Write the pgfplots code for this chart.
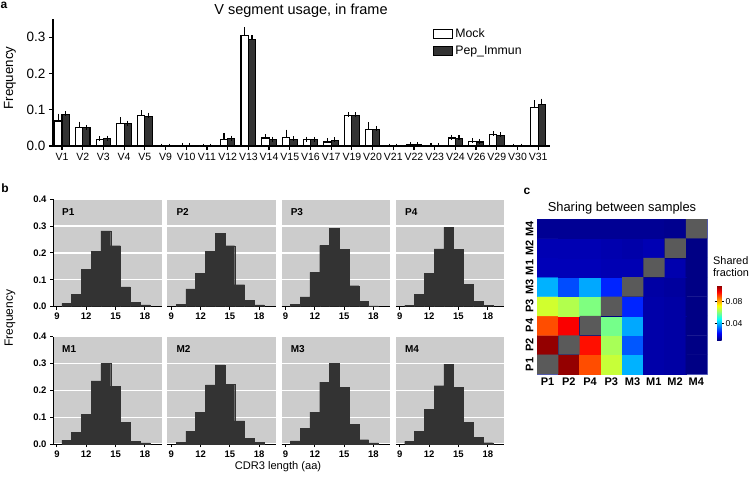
\documentclass[border=0pt]{standalone}
\usepackage{pgfplots}
\pgfplotsset{compat=1.18}
\usepackage{pgfplotstable}
\usepackage{fontspec}
\setmainfont{Liberation Sans}
\definecolor{bardark}{RGB}{51,51,51}
\definecolor{panelgray}{RGB}{204,204,204}
\definecolor{diaggray}{RGB}{90,90,90}
\definecolor{hmborder}{RGB}{110,120,200}
\newcommand{\fsz}[2]{\fontsize{#1}{#2}\selectfont}

\pgfplotstableread{
x  mock  mocke pep   pepe
0  0.069 0.013 0.087 0.002
1  0.051 0.009 0.050 0.001
2  0.018 0.002 0.020 0.002
3  0.062 0.011 0.062 0.001
4  0.084 0.007 0.082 0.003
5  0.000 0.000 0.000 0.000
6  0.002 0.000 0.002 0.000
7  0.000 0.000 0.000 0.000
8  0.018 0.011 0.020 0.002
9  0.304 0.016 0.293 0.006
10 0.022 0.003 0.018 0.001
11 0.023 0.015 0.018 0.002
12 0.017 0.002 0.017 0.001
13 0.011 0.003 0.015 0.002
14 0.085 0.001 0.084 0.002
15 0.046 0.013 0.046 0.002
16 0.000 0.000 0.000 0.000
17 0.004 0.000 0.003 0.000
18 0.002 0.000 0.002 0.000
19 0.022 0.002 0.021 0.002
20 0.013 0.002 0.011 0.001
21 0.032 0.002 0.029 0.002
22 0.000 0.000 0.000 0.000
23 0.106 0.013 0.114 0.010
}\vdata

\pgfplotstableread{
x   P1    P2    P3    P4    M1    M2    M3    M4
10  0.012 0.009 0.010 0.005 0.014 0.007 0.012 0.010
11  0.046 0.066 0.037 0.045 0.043 0.048 0.058 0.046
12  0.140 0.124 0.128 0.123 0.110 0.117 0.119 0.130
13  0.207 0.207 0.228 0.215 0.235 0.220 0.230 0.217
14  0.282 0.272 0.292 0.295 0.300 0.294 0.300 0.297
15  0.227 0.227 0.213 0.213 0.215 0.222 0.210 0.211
16  0.074 0.082 0.078 0.084 0.081 0.086 0.073 0.080
17  0.017 0.024 0.020 0.019 0.011 0.021 0.016 0.025
18  0.007 0.007 0.003 0.005 0.004 0.006 0.004 0.005
}\hdata

\pgfplotstableread{
x y c
0 0 0.010
1 0 0.108
2 0 0.090
3 0 0.067
4 0 0.040
5 0 0.0140
6 0 0.0135
7 0 0.0105
0 1 0.108
1 1 0.010
2 1 0.096
3 1 0.064
4 1 0.031
5 1 0.0140
6 1 0.0135
7 1 0.0105
0 2 0.090
1 2 0.098
2 2 0.010
3 2 0.059
4 2 0.039
5 2 0.0140
6 2 0.0135
7 2 0.0105
0 3 0.068
1 3 0.065
2 3 0.060
3 3 0.010
4 3 0.026
5 3 0.0140
6 3 0.0135
7 3 0.0105
0 4 0.040
1 4 0.030
2 4 0.039
3 4 0.026
4 4 0.010
5 4 0.0135
6 4 0.0130
7 4 0.0105
0 5 0.0155
1 5 0.0155
2 5 0.0155
3 5 0.0150
4 5 0.0150
5 5 0.010
6 5 0.0145
7 5 0.0105
0 6 0.0150
1 6 0.0150
2 6 0.0150
3 6 0.0145
4 6 0.0140
5 6 0.0150
6 6 0.010
7 6 0.0105
0 7 0.0120
1 7 0.0120
2 7 0.0120
3 7 0.0120
4 7 0.0120
5 7 0.0120
6 7 0.0115
7 7 0.010
}\hmdata

\tikzset{plab/.style={anchor=west, font=\bfseries\fsz{10}{12}, inner sep=0pt}}
\pgfplotsset{
  boxlegend/.style={legend image code/.code={\draw[##1] (0pt,-4.5pt) rectangle (19pt,4.5pt);}},
  hist/.style={scale only axis, width=108.5pt, height=107.5pt, anchor=south west,
    xmin=8.6, xmax=19.7, ymin=0, ymax=0.4,
    axis background/.style={fill=panelgray},
    axis x line*=bottom, axis y line*=left,
    axis line style={line width=1pt},
    tick align=outside, major tick length=3pt,
    every tick/.style={black,line width=1pt},
    xtick={9,12,15,18}, ytick={0,0.1,0.2,0.3,0.4},
    ymajorgrids, major grid style={white, line width=1.2pt},
    ticklabel style={font=\bfseries\fsz{9.5}{11}},
    /pgf/number format/assume math mode=true,
    yticklabel style={/pgf/number format/fixed,/pgf/number format/fixed zerofill,/pgf/number format/precision=1},
  },
  histinner/.style={y axis line style={draw=none}, ytick style={draw=none}, yticklabels={}},
  histbar/.style={ybar, bar width=1, fill=bardark, draw=bardark, line width=0.3pt},
}

\begin{document}
\begin{tikzpicture}
\useasboundingbox (0,0) rectangle (749pt,483pt);

% ---------- panel a ----------
\begin{axis}[
  at={(53pt,337pt)}, anchor=south west, scale only axis,
  width=497pt, height=127pt,
  xmin=-0.435, xmax=23.57, ymin=0, ymax=0.35,
  axis x line*=bottom, axis y line*=left,
  axis line style={line width=1.2pt},
  every tick/.style={black, line width=1.2pt},
  tick align=outside, major tick length=4pt,
  xtick={0,...,23},
  xticklabels={V1,V2,V3,V4,V5,V9,V10,V11,V12,V13,V14,V15,V16,V17,V19,V20,V21,V22,V23,V24,V26,V29,V30,V31},
  ytick={0,0.1,0.2,0.3},
  /pgf/number format/assume math mode=true,
  yticklabel style={/pgf/number format/fixed,/pgf/number format/fixed zerofill,/pgf/number format/precision=1, font=\fsz{13.5}{15}},
  xticklabel style={font=\fsz{10.5}{12}},
  ybar=0pt, bar width=7.3pt,
  legend style={at={(0.7646,0.94)}, anchor=north west, draw=none, fill=none,
    font=\fsz{12.3}{14}, row sep=3pt, inner sep=0pt},
  legend cell align=left,
]
\addplot[fill=white, draw=black, line width=1.1pt, boxlegend,
  error bars/.cd, y dir=plus, y explicit, error bar style={line width=1.1pt},
  error mark options={line width=1.1pt, mark size=2.5pt}]
  table[x=x, y=mock, y error=mocke] {\vdata};
\addlegendentry{Mock}
\addplot[fill=bardark, draw=black, line width=1.1pt, boxlegend,
  error bars/.cd, y dir=plus, y explicit, error bar style={line width=1.1pt},
  error mark options={line width=1.1pt, mark size=2.5pt}]
  table[x=x, y=pep, y error=pepe] {\vdata};
\addlegendentry{Pep\_Immun}
\end{axis}

\node[font=\fsz{14.5}{16}] at (301pt,472pt) {V segment usage, in frame};
\node[font=\fsz{13.3}{15}, rotate=90] at (10pt,405pt) {Frequency};
\node[font=\bfseries\fsz{12}{14}] at (4pt,478pt) {a};

% ---------- panel b ----------
\begin{axis}[hist, at={(53pt,176.3pt)}]
\addplot[histbar] table[x=x,y=P1] {\hdata};
\node[plab] at (rel axis cs:0.083,0.882) {P1};
\end{axis}
\begin{axis}[hist, histinner, at={(167.3pt,176.3pt)}]
\addplot[histbar] table[x=x,y=P2] {\hdata};
\node[plab] at (rel axis cs:0.083,0.882) {P2};
\end{axis}
\begin{axis}[hist, histinner, at={(281.6pt,176.3pt)}]
\addplot[histbar] table[x=x,y=P3] {\hdata};
\node[plab] at (rel axis cs:0.083,0.882) {P3};
\end{axis}
\begin{axis}[hist, histinner, at={(395.9pt,176.3pt)}]
\addplot[histbar] table[x=x,y=P4] {\hdata};
\node[plab] at (rel axis cs:0.083,0.882) {P4};
\end{axis}

\begin{axis}[hist, at={(53pt,39pt)}]
\addplot[histbar] table[x=x,y=M1] {\hdata};
\node[plab] at (rel axis cs:0.083,0.882) {M1};
\end{axis}
\begin{axis}[hist, histinner, at={(167.3pt,39pt)}]
\addplot[histbar] table[x=x,y=M2] {\hdata};
\node[plab] at (rel axis cs:0.083,0.882) {M2};
\end{axis}
\begin{axis}[hist, histinner, at={(281.6pt,39pt)}]
\addplot[histbar] table[x=x,y=M3] {\hdata};
\node[plab] at (rel axis cs:0.083,0.882) {M3};
\end{axis}
\begin{axis}[hist, histinner, at={(395.9pt,39pt)}]
\addplot[histbar] table[x=x,y=M4] {\hdata};
\node[plab] at (rel axis cs:0.083,0.882) {M4};
\end{axis}

\node[font=\fsz{12}{14}, rotate=90] at (10pt,165pt) {Frequency};
\node[font=\fsz{11.1}{13}] at (278pt,16pt) {CDR3 length (aa)};
\node[font=\bfseries\fsz{12}{14}] at (5pt,295pt) {b};

% ---------- panel c ----------
\begin{axis}[
  at={(537pt,109pt)}, anchor=south west, scale only axis,
  width=170pt, height=155pt,
  xmin=-0.5, xmax=7.5, ymin=-0.5, ymax=7.5, enlargelimits=false,
  xtick={0,...,7}, ytick={0,...,7},
  xticklabels={P1,P2,P4,P3,M3,M1,M2,M4},
  yticklabels={P1,P2,P4,P3,M3,M1,M2,M4},
  major tick length=0pt,
  ticklabel style={font=\bfseries\fsz{11}{13}},
  yticklabel style={rotate=90, anchor=south},
  axis line style={hmborder, line width=0.6pt},
  colormap/jet, point meta min=0.01, point meta max=0.11,
  colorbar,
  colorbar style={
    at={(parent axis.north east)}, anchor=north west,
    xshift=1.5pt, yshift=-66pt,
    scale only axis, width=4.5pt, height=55pt,
    ytick={0.04,0.08},
    yticklabel style={rotate=0, anchor=west, font=\mdseries\fsz{8.6}{10}, inner sep=1.5pt,
      /pgf/number format/fixed,/pgf/number format/fixed zerofill,/pgf/number format/precision=2},
    /pgf/number format/assume math mode=true,
    axis line style={draw=none},
    major tick length=2.5pt, tick align=outside,
    every tick/.style={black, line width=0.6pt},
  },
]
\addplot[matrix plot*, mesh/cols=8, point meta=explicit] table[x=x,y=y,meta=c] {\hmdata};
\addplot[fill=diaggray, draw=none] coordinates {(-0.5,-0.5) (0.5,-0.5) (0.5,0.5) (-0.5,0.5) (-0.5,-0.5)};
\addplot[fill=diaggray, draw=none] coordinates {(0.5,0.5) (1.5,0.5) (1.5,1.5) (0.5,1.5) (0.5,0.5)};
\addplot[fill=diaggray, draw=none] coordinates {(1.5,1.5) (2.5,1.5) (2.5,2.5) (1.5,2.5) (1.5,1.5)};
\addplot[fill=diaggray, draw=none] coordinates {(2.5,2.5) (3.5,2.5) (3.5,3.5) (2.5,3.5) (2.5,2.5)};
\addplot[fill=diaggray, draw=none] coordinates {(3.5,3.5) (4.5,3.5) (4.5,4.5) (3.5,4.5) (3.5,3.5)};
\addplot[fill=diaggray, draw=none] coordinates {(4.5,4.5) (5.5,4.5) (5.5,5.5) (4.5,5.5) (4.5,4.5)};
\addplot[fill=diaggray, draw=none] coordinates {(5.5,5.5) (6.5,5.5) (6.5,6.5) (5.5,6.5) (5.5,5.5)};
\addplot[fill=diaggray, draw=none] coordinates {(6.5,6.5) (7.5,6.5) (7.5,7.5) (6.5,7.5) (6.5,6.5)};
\end{axis}

\node[font=\fsz{12.9}{15}] at (622pt,275.3pt) {Sharing between samples};
\node[font=\fsz{10.9}{12.6}, align=left, anchor=west, inner sep=0pt] at (713pt,216.5pt) {Shared\\fraction};
\node[font=\bfseries\fsz{12}{14}] at (527pt,291.5pt) {c};
\end{tikzpicture}
\end{document}
